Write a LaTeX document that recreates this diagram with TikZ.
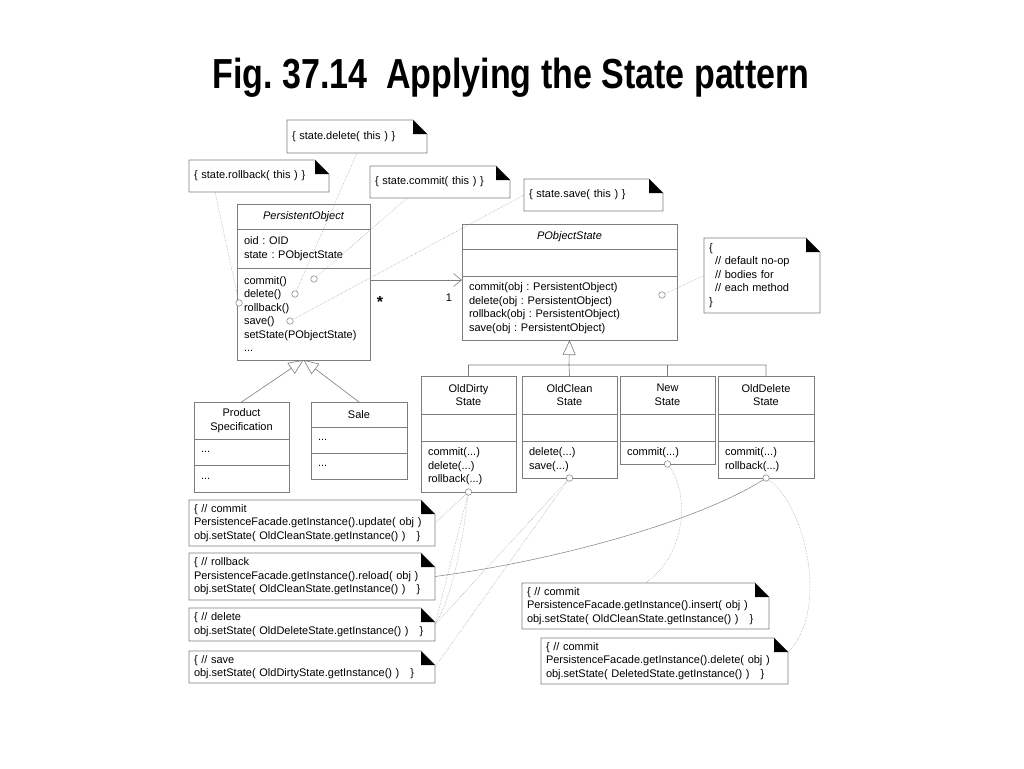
\documentclass[tikz,border=0pt]{standalone}
\usepackage{fontspec}
\setmainfont{Liberation Sans}
\usepackage{graphicx}
\usetikzlibrary{arrows.meta, positioning}
\definecolor{boxgray}{RGB}{125,125,125}
\definecolor{linkgray}{RGB}{160,160,160}
\newcommand{\umlfont}{\fontsize{11}{13.5}\selectfont}
\frenchspacing
\tikzset{
  cls/.style={draw=boxgray, line width=0.6pt, inner xsep=7pt, inner ysep=0pt, outer sep=0pt, font=\umlfont},
  clsname/.style={cls, align=center, anchor=north west},
  clspart/.style={cls, align=left, below=0pt of #1},
  note/.style={anchor=north west, inner xsep=5pt, inner ysep=0pt, outer sep=0pt, align=left, font=\umlfont,
    append after command={\pgfextra{
      \draw[boxgray, line width=0.6pt] (\tikzlastnode.north west) -- ([xshift=-14pt]\tikzlastnode.north east)
        -- ([yshift=-14pt]\tikzlastnode.north east) -- (\tikzlastnode.south east) -- (\tikzlastnode.south west) -- cycle;
      \fill ([xshift=-14pt]\tikzlastnode.north east) -- ([xshift=-14pt,yshift=-14pt]\tikzlastnode.north east)
        -- ([yshift=-14pt]\tikzlastnode.north east) -- cycle;}}},
  port/.style={circle, draw=boxgray, fill=white, line width=0.5pt, inner sep=0pt, minimum size=6.5pt},
  link/.style={draw=linkgray, densely dotted, line width=0.5pt},
  gen/.style={draw=boxgray, line width=0.6pt, -{Triangle[open, length=15pt, width=13pt]}}
}

\begin{document}
\begin{tikzpicture}[x=1pt, y=-1pt]
    \fill[white] (0,0) rectangle (1024,768);
    \useasboundingbox (0,0) rectangle (1024,768);

    % Title
    \node[anchor=base, font=\fontsize{42}{42}\selectfont\bfseries] (title) at (511,88)
        {\scalebox{0.81}[1]{Fig. 37.14\hspace{0.55em}Applying the State pattern}};

    % PersistentObject
    \node[clsname, text width=119pt, minimum height=25pt] (po) at (237,204) {\itshape PersistentObject};
    \node[clspart=po, text width=119pt, minimum height=39pt] (po-a) {oid : OID\\state : PObjectState};
    \node[clspart=po-a, text width=119pt, minimum height=92pt] (po-m)
        {commit()\\delete()\\rollback()\\save()\\setState(PObjectState)\\...};

    % PObjectState
    \node[clsname, text width=201pt, minimum height=25pt] (pos) at (462,224) {\itshape PObjectState};
    \node[clspart=pos, text width=201pt, minimum height=27pt] (pos-a) {};
    \node[clspart=pos-a, text width=201pt, minimum height=64pt] (pos-m)
        {commit(obj : PersistentObject)\\delete(obj : PersistentObject)\\rollback(obj : PersistentObject)\\save(obj : PersistentObject)};

    % State subclasses
    \node[clsname, text width=81pt, minimum height=38pt] (dirty) at (421,376) {OldDirty\\State};
    \node[clspart=dirty, text width=81pt, minimum height=27pt] (dirty-a) {};
    \node[clspart=dirty-a, text width=81pt, minimum height=51pt] (dirty-m) {commit(...)\\delete(...)\\rollback(...)};

    \node[clsname, text width=81pt, minimum height=38pt] (clean) at (522,376) {OldClean\\State};
    \node[clspart=clean, text width=81pt, minimum height=27pt] (clean-a) {};
    \node[clspart=clean-a, text width=81pt, minimum height=37pt] (clean-m) {delete(...)\\save(...)};

    \node[clsname, text width=81pt, minimum height=38pt] (new) at (620,376) {New\\State};
    \node[clspart=new, text width=81pt, minimum height=27pt] (new-a) {};
    \node[clspart=new-a, text width=81pt, minimum height=23pt] (new-m) {commit(...)};

    \node[clsname, text width=82pt, minimum height=38pt] (odel) at (718,376) {OldDelete\\State};
    \node[clspart=odel, text width=82pt, minimum height=27pt] (odel-a) {};
    \node[clspart=odel-a, text width=82pt, minimum height=37pt] (odel-m) {commit(...)\\rollback(...)};

    % Persistent subclasses
    \node[clsname, text width=81pt, minimum height=37pt] (prod) at (194,402) {Product\\Specification};
    \node[clspart=prod, text width=81pt, minimum height=26pt] (prod-a) {...};
    \node[clspart=prod-a, text width=81pt, minimum height=27pt] (prod-m) {...};

    \node[clsname, text width=82pt, minimum height=25pt] (sale) at (311,402) {Sale};
    \node[clspart=sale, text width=82pt, minimum height=26pt] (sale-a) {...};
    \node[clspart=sale-a, text width=82pt, minimum height=26pt] (sale-m) {...};

    % Notes
    \node[note, text width=130pt, minimum height=33pt] (ndel) at (287,120) {\{ state.delete( this ) \}};
    \node[note, text width=130pt, minimum height=32pt] (nrb) at (189,160) {\{ state.rollback( this ) \}};
    \node[note, text width=130pt, minimum height=32pt] (ncom) at (370,166) {\{ state.commit( this ) \}};
    \node[note, text width=129pt, minimum height=32pt] (nsave) at (524,179) {\{ state.save( this ) \}};
    \node[note, text width=106pt, minimum height=75pt] (nnoop) at (704,238)
        {\{\\\hspace*{6pt}// default no-op\\\hspace*{6pt}// bodies for\\\hspace*{6pt}// each method\\\}};

    \node[note, text width=236pt, minimum height=46pt] (ndcom) at (189,500)
        {\{ // commit\\PersistenceFacade.getInstance().update( obj )\\obj.setState( OldCleanState.getInstance() )\quad\}};
    \node[note, text width=236pt, minimum height=47pt] (ndrb) at (189,553)
        {\{ // rollback\\PersistenceFacade.getInstance().reload( obj )\\obj.setState( OldCleanState.getInstance() )\quad\}};
    \node[note, text width=236pt, minimum height=33pt] (nddel) at (189,608)
        {\{ // delete\\obj.setState( OldDeleteState.getInstance() )\quad\}};
    \node[note, text width=236pt, minimum height=32pt] (ndsave) at (189,651)
        {\{ // save\\obj.setState( OldDirtyState.getInstance() )\quad\}};
    \node[note, text width=237pt, minimum height=46pt] (nncom) at (522,583)
        {\{ // commit\\PersistenceFacade.getInstance().insert( obj )\\obj.setState( OldCleanState.getInstance() )\quad\}};
    \node[note, text width=237pt, minimum height=46pt] (nodcom) at (541,638)
        {\{ // commit\\PersistenceFacade.getInstance().delete( obj )\\obj.setState( DeletedState.getInstance() )\quad\}};

    % Association
    \coordinate (assoc) at (0,280);
    \draw[boxgray, line width=0.6pt, -{Straight Barb[length=8pt, width=13pt]}] (po-m.east |- assoc) -- (pos-m.west |- assoc);
    \node[font=\fontsize{16}{16}\selectfont\bfseries] (many) at (380,302) {*};
    \node[font=\umlfont] (one) at (449,298) {1};

    % Generalizations
    \coordinate (bar) at (569,365);
    \draw[gen] (bar) -- (pos-m.south);
    \draw[boxgray, line width=0.6pt] (dirty.north) |- (bar) (clean.north) -- (bar) (new.north) |- (bar) (odel.north) |- (bar);
    \draw[gen] (prod.north) -- (po-m.south);
    \draw[gen] (sale.north) -- (po-m.south);

    % Ports
    \node[port] (c-pcommit) at (314,279) {};
    \node[port] (c-pdelete) at (295,294) {};
    \node[port] (c-prollback) at (239,303) {};
    \node[port] (c-psave) at (290,321) {};
    \node[port] (c-noop) at (662,295) {};
    \node[port] (c-dirty) at (dirty-m.south) {};
    \node[port] (c-clean) at (clean-m.south) {};
    \node[port] (c-new) at (new-m.south) {};
    \node[port] (c-odel) at (odel-m.south) {};

    % Note links
    \draw[link] (ndel.south) -- (c-pdelete);
    \draw[link] (nrb.200) -- (c-prollback);
    \draw[link] (ncom.206) -- (c-pcommit);
    \draw[link] (nsave.west) -- (c-psave);
    \draw[link] (nnoop.west) -- (c-noop);
    \draw[link] (c-dirty) -- (ndcom.east);
    \draw[link] (c-dirty) -- (nddel.east);
    \draw[link] (c-dirty) .. controls (463,540) and (452,598) .. (nddel.east);
    \draw[link] (c-clean) -- (nddel.east);
    \draw[link] (c-clean) -- (ndsave.east);
    \draw[link] (c-new) .. controls (690,495) and (686,555) .. (nncom.north);
    \draw[link] (c-odel) .. controls (805,505) and (830,610) .. (nodcom.4);
    \draw[boxgray, line width=0.5pt] (c-odel) .. controls (700,520) and (560,560) .. (ndrb.east);
\end{tikzpicture}
\end{document}
